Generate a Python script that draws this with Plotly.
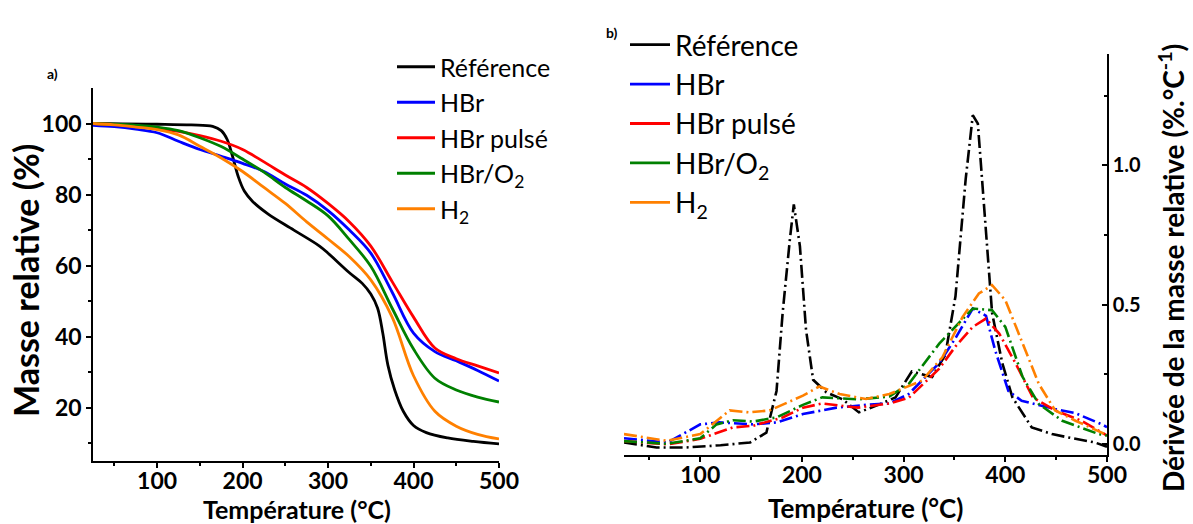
import plotly.graph_objects as go

W, H = 1193, 524

names = ["Référence", "HBr", "HBr pulsé", "HBr/O<sub>2</sub>", "H<sub>2</sub>"]
colors = ["#000000", "#0000ff", "#ff0000", "#008000", "#ff8000"]

# a) thermogravimetry: relative mass (%) vs temperature (°C)
t_ref = [25, 60, 100, 140, 165, 175, 182, 188, 195, 202, 212, 230, 260, 290, 300, 325, 340, 350,
         358, 364, 370, 378, 388, 400, 415, 440, 470, 500]
m_ref = [100, 99.9, 99.8, 99.6, 99.2, 98, 95.5, 91, 85, 81, 78, 74.5, 70, 65.5, 63.5, 58, 55, 52,
         48, 41, 32, 25, 19, 15, 13, 11.5, 10.5, 9.8]
t_grid = [25, 50, 75, 100, 125, 150, 175, 200, 225, 250, 275, 300, 325, 350, 375, 400, 425, 450, 475, 500]
m_hbr = [99.5, 99.1, 98.4, 97.4, 95.0, 92.7, 90.8, 88.8, 86.5, 83.0, 79.8, 75.5, 70.0, 63.5, 52.5,
         41.0, 35.8, 33.2, 30.5, 27.5]
m_pulse = [100, 99.7, 99.2, 98.6, 97.8, 96.6, 95.0, 92.7, 89.2, 85.5, 82.0, 77.5, 72.3, 65.5, 55.5,
           45.5, 36.8, 33.8, 31.8, 29.8]
m_o2 = [100, 99.8, 99.5, 99.0, 98.0, 96.0, 93.5, 90.0, 86.3, 82.0, 78.2, 74.0, 67.3, 59.8, 48.0,
        36.5, 28.3, 25.0, 23.0, 21.6]
m_h2 = [100, 99.6, 99.0, 98.3, 96.8, 93.6, 90.3, 86.5, 82.0, 77.5, 72.3, 67.5, 62.5, 56.0, 45.5,
        29.0, 19.0, 14.8, 12.5, 11.2]

# b) derivative of relative mass (%.°C-1) vs temperature (°C)
td_ref = [25, 57, 86, 120, 149, 165, 175, 181, 188, 192, 198, 204, 211, 224, 240, 256, 275, 292,
          308, 328, 341, 351, 361, 368, 373, 381, 387, 397, 407, 426, 446, 462, 488, 500]
d_ref = [0.005, -0.013, -0.013, -0.005, 0.005, 0.04, 0.19, 0.47, 0.73, 0.86, 0.71, 0.41, 0.23,
         0.185, 0.16, 0.113, 0.14, 0.167, 0.26, 0.24, 0.32, 0.53, 0.95, 1.18, 1.15, 0.77, 0.47,
         0.29, 0.167, 0.059, 0.035, 0.023, 0.005, -0.01]
td_hbr = [25, 68, 100, 119, 152, 175, 201, 234, 263, 286, 305, 335, 351, 368, 381, 390, 403, 416,
          449, 469, 495, 500]
d_hbr = [0.02, 0.005, 0.07, 0.077, 0.07, 0.077, 0.107, 0.13, 0.14, 0.145, 0.179, 0.29, 0.38, 0.486,
         0.46, 0.336, 0.19, 0.155, 0.125, 0.11, 0.07, 0.06]
td_pulse = [25, 68, 100, 132, 152, 181, 201, 220, 255, 286, 305, 335, 351, 368, 381, 394, 410, 427,
            449, 475, 495, 500]
d_pulse = [0.01, -0.002, 0.018, 0.059, 0.065, 0.095, 0.13, 0.145, 0.13, 0.145, 0.165, 0.27, 0.35,
           0.42, 0.45, 0.396, 0.29, 0.167, 0.12, 0.083, 0.04, 0.03]
td_o2 = [25, 67, 100, 116, 132, 152, 175, 201, 220, 255, 286, 305, 335, 351, 368, 387, 400, 417,
         433, 456, 492, 500]
d_o2 = [0.01, 0.0, 0.02, 0.07, 0.085, 0.08, 0.095, 0.14, 0.167, 0.16, 0.17, 0.215, 0.36, 0.42,
        0.486, 0.48, 0.42, 0.24, 0.143, 0.083, 0.035, 0.03]
td_h2 = [25, 67, 100, 129, 148, 168, 201, 217, 237, 263, 286, 318, 338, 358, 374, 387, 400, 417,
         433, 449, 469, 498]
d_h2 = [0.035, 0.011, 0.035, 0.12, 0.113, 0.12, 0.173, 0.206, 0.179, 0.161, 0.179, 0.227, 0.31,
        0.456, 0.54, 0.57, 0.516, 0.36, 0.215, 0.12, 0.083, 0.035]

tga = [(t_ref, m_ref), (t_grid, m_hbr), (t_grid, m_pulse), (t_grid, m_o2), (t_grid, m_h2)]
dtg = [(td_ref, d_ref), (td_hbr, d_hbr), (td_pulse, d_pulse), (td_o2, d_o2), (td_h2, d_h2)]

FONT = "Lato, 'Open Sans', sans-serif"

fig = go.Figure()

for i in range(5):
    fig.add_trace(go.Scatter(x=tga[i][0], y=tga[i][1], mode="lines", line_shape="spline",
                             line=dict(color=colors[i], width=2.8), showlegend=False,
                             xaxis="x", yaxis="y"))
    fig.add_trace(go.Scatter(x=dtg[i][0], y=dtg[i][1], mode="lines",
                             line=dict(color=colors[i], width=2.6, dash="13px,4px,2px,4px"),
                             showlegend=False, xaxis="x2", yaxis="y2"))
    # legend entries drawn as solid lines
    fig.add_trace(go.Scatter(x=[None], y=[None], mode="lines", name=names[i],
                             line=dict(color=colors[i], width=2.8), legend="legend",
                             xaxis="x", yaxis="y"))
    fig.add_trace(go.Scatter(x=[None], y=[None], mode="lines", name=names[i],
                             line=dict(color=colors[i], width=2.8), legend="legend2",
                             xaxis="x2", yaxis="y2"))

axis_common = dict(showline=True, linecolor="black", linewidth=1.5, ticks="outside",
                   ticklen=5, tickwidth=1.5, tickcolor="black", showgrid=False, zeroline=False,
                   automargin=False, tickfont=dict(family=FONT, size=23, color="black", weight="bold"))
minor_x = dict(tickvals=[50, 150, 250, 350, 450], ticks="outside", ticklen=3,
               tickcolor="black", tickwidth=1.5)

fig.update_layout(
    width=W, height=H,
    paper_bgcolor="white", plot_bgcolor="white",
    margin=dict(l=0, r=0, t=0, b=0),
    font=dict(family=FONT, color="black"),
    xaxis=dict(domain=[93 / W, 499 / W], range=[25, 500], tickvals=[100, 200, 300, 400, 500],
               minor=minor_x, ticklabelstandoff=-6, anchor="y", **axis_common),
    yaxis=dict(domain=[1 - 461 / H, 1 - 88 / H], range=[5, 110], tickvals=[20, 40, 60, 80, 100],
               minor=dict(tickvals=[10, 30, 50, 70, 90], ticks="outside", ticklen=3,
                          tickcolor="black", tickwidth=1.5),
               anchor="x", **axis_common),
    xaxis2=dict(domain=[624 / W, 1107 / W], range=[25, 500], tickvals=[100, 200, 300, 400, 500],
                minor=minor_x, ticklabelstandoff=-6, anchor="y2", **axis_common),
    yaxis2=dict(domain=[1 - 455 / H, 1 - 54 / H], range=[-0.04, 1.40], tickvals=[0, 0.5, 1.0],
                tickformat=".1f", side="right",
                minor=dict(tickvals=[0.25, 0.75, 1.25], ticks="inside", ticklen=3,
                           tickcolor="black", tickwidth=1.5),
                anchor="x2",
                **{**axis_common, "ticks": "inside",
                   "tickfont": dict(family=FONT, size=20, color="black", weight="bold")}),
    legend=dict(x=392 / W, y=1 - 44 / H, xanchor="left", yanchor="top",
                bgcolor="rgba(0,0,0,0)", font=dict(family=FONT, size=25, color="black"),
                tracegroupgap=0, itemwidth=38),
    legend2=dict(x=625 / W, y=1 - 20 / H, xanchor="left", yanchor="top",
                 bgcolor="rgba(0,0,0,0)", font=dict(family=FONT, size=28, color="black"),
                 tracegroupgap=0, itemwidth=40),
    annotations=[
        dict(text="a)", x=45 / W, y=1 - 63 / H, xref="paper", yref="paper", showarrow=False,
             font=dict(family=FONT, size=14, weight="bold")),
        dict(text="b)", x=612 / W, y=1 - 22 / H, xref="paper", yref="paper", showarrow=False,
             font=dict(family=FONT, size=14, weight="bold")),
        dict(text="Masse relative (%)", x=25 / W, y=1 - 281 / H, xref="paper", yref="paper",
             textangle=-90, showarrow=False, xanchor="center", yanchor="middle",
             font=dict(family=FONT, size=34, weight="bold")),
        dict(text="Dérivée de la masse relative (%.°C<sup>-1</sup>)", x=1171 / W, y=1 - 268 / H,
             xref="paper", yref="paper", textangle=-90, showarrow=False,
             xanchor="center", yanchor="middle", font=dict(family=FONT, size=28, weight="bold")),
        dict(text="Température (°C)", x=297 / W, y=1 - 509 / H, xref="paper", yref="paper",
             showarrow=False, xanchor="center", yanchor="middle",
             font=dict(family=FONT, size=25, weight="bold")),
        dict(text="Température (°C)", x=866 / W, y=1 - 508 / H, xref="paper", yref="paper",
             showarrow=False, xanchor="center", yanchor="middle",
             font=dict(family=FONT, size=26, weight="bold")),
    ],
)

fig.write_html("out.html", config={"displayModeBar": False},
               post_script="document.body.style.margin='0px';")
